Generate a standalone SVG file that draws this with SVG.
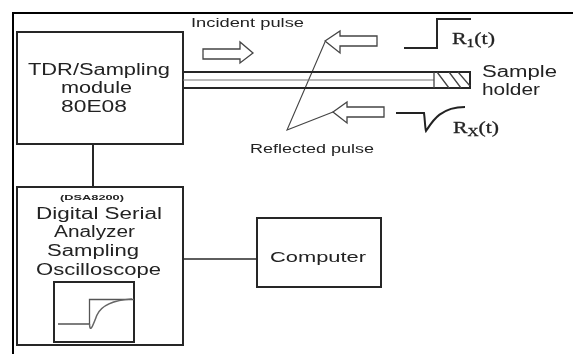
<svg xmlns="http://www.w3.org/2000/svg" width="573" height="354" viewBox="0 0 573 354">
<defs>
<filter id="soft" x="0" y="0" width="100%" height="100%"><feGaussianBlur stdDeviation="0.45"/></filter>
<style>
.b{fill:none;stroke:#262626;stroke-width:2}
.t{fill:none;stroke:#444;stroke-width:1.300}
.s{font-family:"Liberation Sans",Arial,sans-serif;fill:#222}
.m{font-size:16px}
.l{font-size:12px}
.f{font-family:"Liberation Serif","Times New Roman",serif;fill:#222;font-size:17px;stroke:#222;stroke-width:.3}
</style></defs>
<rect width="573" height="354" fill="#fff"/>
<g filter="url(#soft)">
<path id="frame" d="M573 12.500H12.500V354" fill="none" stroke="#000" stroke-width="3"/>
<g id="connectors">
<path class="b" d="M93 144V187"/>
<path class="b" d="M183 259H257" style="stroke-width:1.500"/>
<path d="M325 42L287 130L333 112" fill="none" stroke="#444" stroke-width="1.100"/>
</g>
<g id="tdr-module">
<rect class="b" x="17" y="32" width="166" height="112"/>
<text class="s m" x="28" y="74.500" textLength="142" lengthAdjust="spacingAndGlyphs">TDR/Sampling</text>
<text class="s m" x="61" y="93" textLength="71" lengthAdjust="spacingAndGlyphs">module</text>
<text class="s m" x="61" y="112" textLength="66" lengthAdjust="spacingAndGlyphs">80E08</text>
</g>
<g id="oscilloscope">
<rect class="b" x="17" y="187" width="166" height="158"/>
<text class="s" x="60" y="199.500" font-size="8" font-weight="bold" textLength="64" lengthAdjust="spacingAndGlyphs">(DSA8200)</text>
<text class="s m" x="36" y="218.500" textLength="126" lengthAdjust="spacingAndGlyphs">Digital Serial</text>
<text class="s m" x="54" y="237" textLength="81" lengthAdjust="spacingAndGlyphs">Analyzer</text>
<text class="s m" x="47" y="256" textLength="92" lengthAdjust="spacingAndGlyphs">Sampling</text>
<text class="s m" x="36" y="275" textLength="125" lengthAdjust="spacingAndGlyphs">Oscilloscope</text>
<rect class="b" x="54" y="282" width="80" height="60"/>
<path d="M58 324H89.500V299.500H134" fill="none" stroke="#555" stroke-width="1.300"/>
<path d="M89.500 324C90 334 93 325 97 315C102 304 115 300 132 299" fill="none" stroke="#666" stroke-width="1.500"/>
</g>
<g id="computer">
<rect class="b" x="257" y="218" width="124" height="69"/>
<text class="s" x="270" y="262" font-size="15.500" textLength="96" lengthAdjust="spacingAndGlyphs">Computer</text>
</g>
<g id="sample-holder">
<path class="b" d="M183 72H470V88H183"/>
<path d="M183 80H434" stroke="#777" stroke-width="1.200" fill="none"/>
<path class="t" d="M434 72V88M437 72L449 88M449 72L461 88M458 72L470 86"/>
<text class="s m" x="482" y="76.500" textLength="75" lengthAdjust="spacingAndGlyphs">Sample</text>
<text class="s m" x="482" y="95" textLength="58" lengthAdjust="spacingAndGlyphs">holder</text>
</g>
<g id="incident-pulse">
<text class="s l" x="191" y="27" textLength="113" lengthAdjust="spacingAndGlyphs">Incident pulse</text>
<path class="t" d="M203 49H240V42L253 53L240 63V59H203Z"/>
</g>
<g id="reflected-pulse">
<path class="t" d="M325 41L340 31V36H377V46H340V53Z"/>
<path class="t" d="M333 112L347 102V107H384V117H347V123Z"/>
<text class="s l" x="250" y="153" textLength="124" lengthAdjust="spacingAndGlyphs">Reflected pulse</text>
</g>
<g id="r1-signal">
<path class="b" d="M404 48H437V19H471"/>
<text class="f" x="452" y="44" textLength="43" lengthAdjust="spacingAndGlyphs">R<tspan font-size="12" dy="3">1</tspan><tspan dy="-3">(t)</tspan></text>
</g>
<g id="rx-signal">
<path d="M396 113H424C425 120 425 128 426 131C432 122 440 107 465 107" fill="none" stroke="#222" stroke-width="2"/>
<text class="f" x="453" y="133" textLength="46" lengthAdjust="spacingAndGlyphs">R<tspan font-size="12" dy="3">X</tspan><tspan dy="-3">(t)</tspan></text>
</g>
</g>
</svg>
